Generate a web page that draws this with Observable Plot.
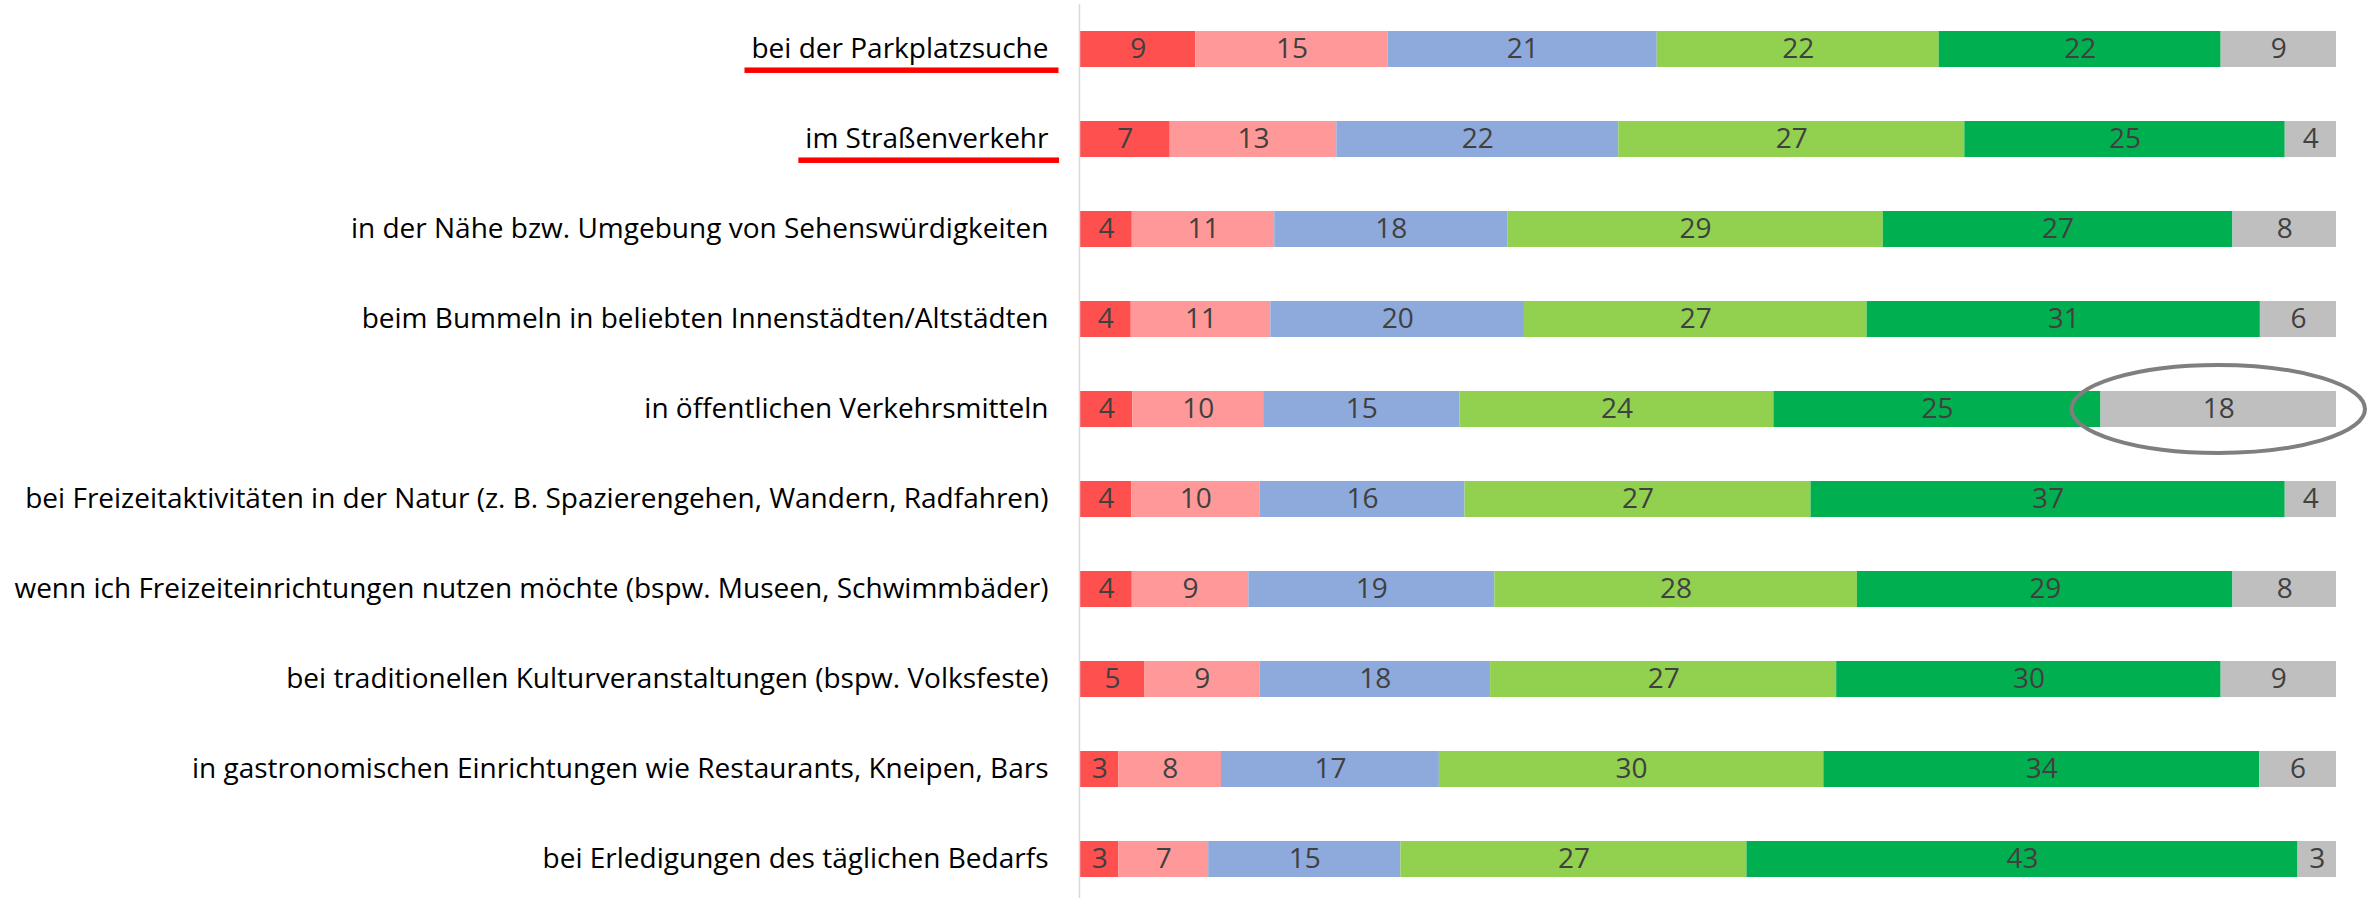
<!DOCTYPE html>
<html>
<head>
<meta charset="utf-8">
<script src="https://cdn.jsdelivr.net/npm/d3@7"></script>
<script src="https://cdn.jsdelivr.net/npm/@observablehq/plot@0.6"></script>
<style>
  html, body { margin: 0; padding: 0; background: #fff; }
  #chart svg { display: block; }
</style>
</head>
<body>
<div id="chart"></div>
<script>
// Categories (rows, top to bottom)
const categories = [
  "bei der Parkplatzsuche",
  "im Straßenverkehr",
  "in der Nähe bzw. Umgebung von Sehenswürdigkeiten",
  "beim Bummeln in beliebten Innenstädten/Altstädten",
  "in öffentlichen Verkehrsmitteln",
  "bei Freizeitaktivitäten in der Natur (z. B. Spazierengehen, Wandern, Radfahren)",
  "wenn ich Freizeiteinrichtungen nutzen möchte (bspw. Museen, Schwimmbäder)",
  "bei traditionellen Kulturveranstaltungen (bspw. Volksfeste)",
  "in gastronomischen Einrichtungen wie Restaurants, Kneipen, Bars",
  "bei Erledigungen des täglichen Bedarfs"
];

// Series (stack order, left to right)
const seriesNames = ["Kategorie 1", "Kategorie 2", "Kategorie 3", "Kategorie 4", "Kategorie 5", "Kategorie 6"];
const seriesColors = ["#FF5050", "#FF9999", "#8EA9DB", "#92D050", "#00B050", "#BFBFBF"];

// Values per series (percent, one per category)
const s1 = [9, 7, 4, 4, 4, 4, 4, 5, 3, 3];
const s2 = [15, 13, 11, 11, 10, 10, 9, 9, 8, 7];
const s3 = [21, 22, 18, 20, 15, 16, 19, 18, 17, 15];
const s4 = [22, 27, 29, 27, 24, 27, 28, 27, 30, 27];
const s5 = [22, 25, 27, 31, 25, 37, 29, 30, 34, 43];
const s6 = [9, 4, 8, 6, 18, 4, 8, 9, 6, 3];

// Annotations
const underlined = ["bei der Parkplatzsuche", "im Straßenverkehr"];
const circledRow = "in öffentlichen Verkehrsmitteln";
const circledSeries = "Kategorie 6";

const seriesValues = [s1, s2, s3, s4, s5, s6];
const rows = [];
categories.forEach((c, i) => {
  seriesNames.forEach((s, j) => {
    rows.push({item: c, series: s, value: seriesValues[j][i]});
  });
});

const FONT = "'Open Sans', Lato, sans-serif";
const FS = 28;

// custom mark: ellipse around one stacked segment, positioned via the scales
function ellipseMark(index, scales, values, dimensions) {
  const i = categories.indexOf(circledRow);
  const j = seriesNames.indexOf(circledSeries);
  const total = seriesValues.reduce((a, arr) => a + arr[i], 0);
  let start = 0;
  for (let k = 0; k < j; k++) start += seriesValues[k][i];
  const end = start + seriesValues[j][i];
  const x1 = scales.x(start / total), x2 = scales.x(end / total);
  const bw = scales.y.bandwidth ? scales.y.bandwidth() : 0;
  const cy = scales.y(circledRow) + bw / 2;
  const e = document.createElementNS("http://www.w3.org/2000/svg", "ellipse");
  e.setAttribute("cx", (x1 + x2) / 2);
  e.setAttribute("cy", cy);
  e.setAttribute("rx", (x2 - x1) / 2 + 29);
  e.setAttribute("ry", 44);
  e.setAttribute("fill", "none");
  e.setAttribute("stroke", "#7F7F7F");
  e.setAttribute("stroke-width", 4);
  return e;
}

const chart = Plot.plot({
  width: 2377,
  height: 898,
  marginLeft: 1080,
  marginRight: 41,
  marginTop: 4,
  marginBottom: 0,
  style: {fontFamily: FONT, fontSize: FS + "px", color: "#000", background: "#fff", overflow: "visible"},
  x: {axis: null, domain: [0, 1]},
  y: {domain: categories, range: [3.7, 903.7], paddingInner: 0.6, paddingOuter: 0.3, axis: null},
  color: {domain: seriesNames, range: seriesColors},
  marks: [
    Plot.barX(rows, Plot.stackX({offset: "normalize", x: "value", y: "item", z: "series", fill: "series"})),
    Plot.text(rows, Plot.stackX({offset: "normalize", x: "value", y: "item", z: "series",
      text: d => String(d.value), fill: "#404040", fontSize: FS})),
    Plot.ruleX([0], {stroke: "#D9D9D9", strokeWidth: 1.5, dx: -1}),
    Plot.axisY({tickSize: 0, tickPadding: 32, fontSize: FS, label: null, fill: "#000"}),
    ellipseMark
  ]
});

document.getElementById("chart").appendChild(chart);

// red underlines beneath highlighted category labels
const svgRect = chart.getBoundingClientRect();
chart.querySelectorAll("text").forEach(t => {
  if (underlined.includes(t.textContent)) {
    const r = t.getBoundingClientRect();
    const cy = (r.top + r.bottom) / 2 - svgRect.top;
    const rect = document.createElementNS("http://www.w3.org/2000/svg", "rect");
    rect.setAttribute("x", r.left - svgRect.left - 7);
    rect.setAttribute("width", r.width + 17);
    rect.setAttribute("y", cy + 20);
    rect.setAttribute("height", 5.5);
    rect.setAttribute("fill", "#FF0000");
    chart.appendChild(rect);
  }
});
</script>
</body>
</html>
